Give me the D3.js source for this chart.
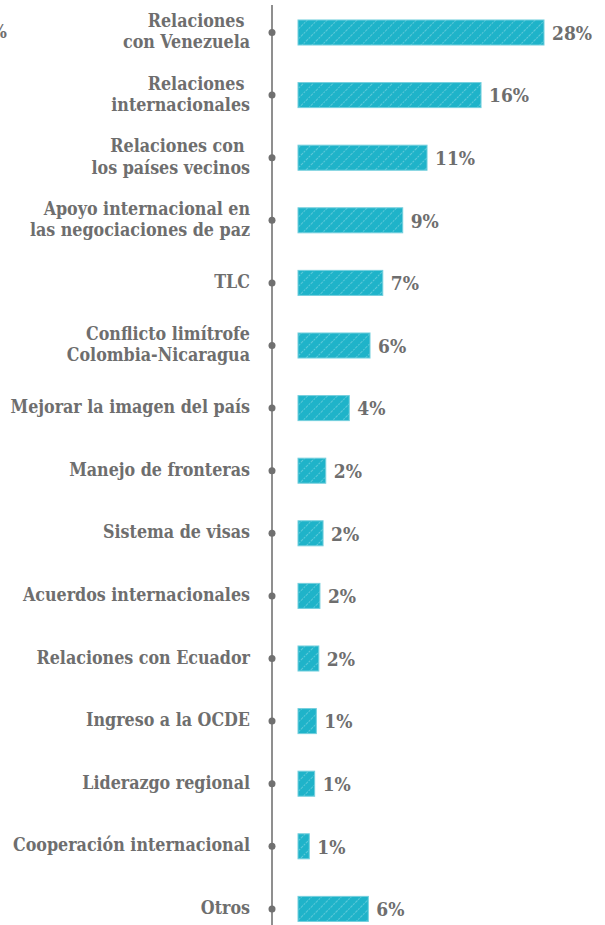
<!DOCTYPE html>
<html>
<head>
<meta charset="utf-8">
<script src="https://cdn.jsdelivr.net/npm/d3@7"></script>
<style>
  html, body { margin: 0; padding: 0; background: #ffffff; overflow: hidden; }
  svg { display: block; }
</style>
</head>
<body>
<svg id="chart" width="605" height="925"></svg>
<script>
// ---- data ----
const categories = [
  "Relaciones \ncon Venezuela",
  "Relaciones \ninternacionales",
  "Relaciones con \nlos países vecinos",
  "Apoyo internacional en\nlas negociaciones de paz",
  "TLC",
  "Conflicto limítrofe\nColombia-Nicaragua",
  "Mejorar la imagen del país",
  "Manejo de fronteras",
  "Sistema de visas",
  "Acuerdos internacionales",
  "Relaciones con Ecuador",
  "Ingreso a la OCDE",
  "Liderazgo regional",
  "Cooperación internacional",
  "Otros"
];
// estimated shares (%), labels show rounded value
const values = [28, 15.98, 11.16, 8.99, 7.21, 6.07, 4.22, 2.12, 1.88, 1.6, 1.5, 1.28, 1.13, 0.65, 5.92];

// ---- layout ----
const svg = d3.select("#chart");
const axisX = 272;
const barStart = 298;
const labelColor = "#6e6e6e";
const fontFamily = "'DejaVu Serif Condensed', 'DejaVu Serif', 'Liberation Serif', serif";

const y = d3.scaleBand()
  .domain(categories)
  .range([1.2, 940.2])
  .paddingInner(0.6)
  .paddingOuter(0.3);

const x = d3.scaleLinear()
  .domain([0, 21.6])
  .range([302, 544])
  .clamp(true);

// hatch pattern
const defs = svg.append("defs");
const pat = defs.append("pattern")
  .attr("id", "hatch")
  .attr("patternUnits", "userSpaceOnUse")
  .attr("width", 7).attr("height", 7)
  .attr("patternTransform", "rotate(45)");
pat.append("rect").attr("width", 7).attr("height", 7).attr("fill", "#1fb3c9");
pat.append("line")
  .attr("x1", 0).attr("y1", 0).attr("x2", 0).attr("y2", 7)
  .attr("stroke", "rgba(255,255,255,0.45)")
  .attr("stroke-width", 1.2)
  .attr("stroke-dasharray", "2,1");

// cut-off label fragment from neighbouring chart
svg.append("text")
  .attr("x", 7).attr("y", 38)
  .attr("text-anchor", "end")
  .attr("font-family", fontFamily)
  .attr("font-weight", "bold")
  .attr("font-size", 18)
  .attr("fill", labelColor)
  .text("%");

// axis line
svg.append("line")
  .attr("x1", axisX).attr("x2", axisX)
  .attr("y1", 5).attr("y2", 925)
  .attr("stroke", "#8f8f8f")
  .attr("stroke-width", 2);

const rows = svg.append("g").selectAll("g")
  .data(categories.map((c, i) => ({ cat: c, v: values[i] })))
  .join("g");

// dots
rows.append("circle")
  .attr("cx", axisX)
  .attr("cy", d => y(d.cat) + y.bandwidth() / 2)
  .attr("r", 3.5)
  .attr("fill", "#707070");

// bars
rows.append("rect")
  .attr("x", barStart)
  .attr("y", d => y(d.cat))
  .attr("width", d => x(d.v) - barStart)
  .attr("height", y.bandwidth())
  .attr("fill", "url(#hatch)")
  .attr("stroke", "#74cfdd")
  .attr("stroke-width", 1);

// value labels
rows.append("text")
  .attr("x", d => x(d.v) + 8)
  .attr("y", d => y(d.cat) + y.bandwidth() / 2)
  .attr("dy", "0.38em")
  .attr("font-family", fontFamily)
  .attr("font-weight", "bold")
  .attr("font-size", 19)
  .attr("fill", labelColor)
  .text(d => Math.round(d.v) + "%");

// category labels
const lineH = 21.5;
rows.append("text")
  .attr("text-anchor", "end")
  .attr("font-family", fontFamily)
  .attr("font-weight", "bold")
  .attr("font-size", 17.7)
  .attr("fill", labelColor)
  .style("white-space", "pre")
  .each(function(d) {
    const lines = d.cat.split("\n");
    const cy = y(d.cat) + y.bandwidth() / 2;
    const top = cy - (lines.length - 1) * lineH / 2 - 1;
    const t = d3.select(this);
    lines.forEach((ln, k) => {
      t.append("tspan")
        .attr("x", 250)
        .attr("y", top + k * lineH)
        .attr("dy", "0.35em")
        .text(ln);
    });
  });
</script>
</body>
</html>
